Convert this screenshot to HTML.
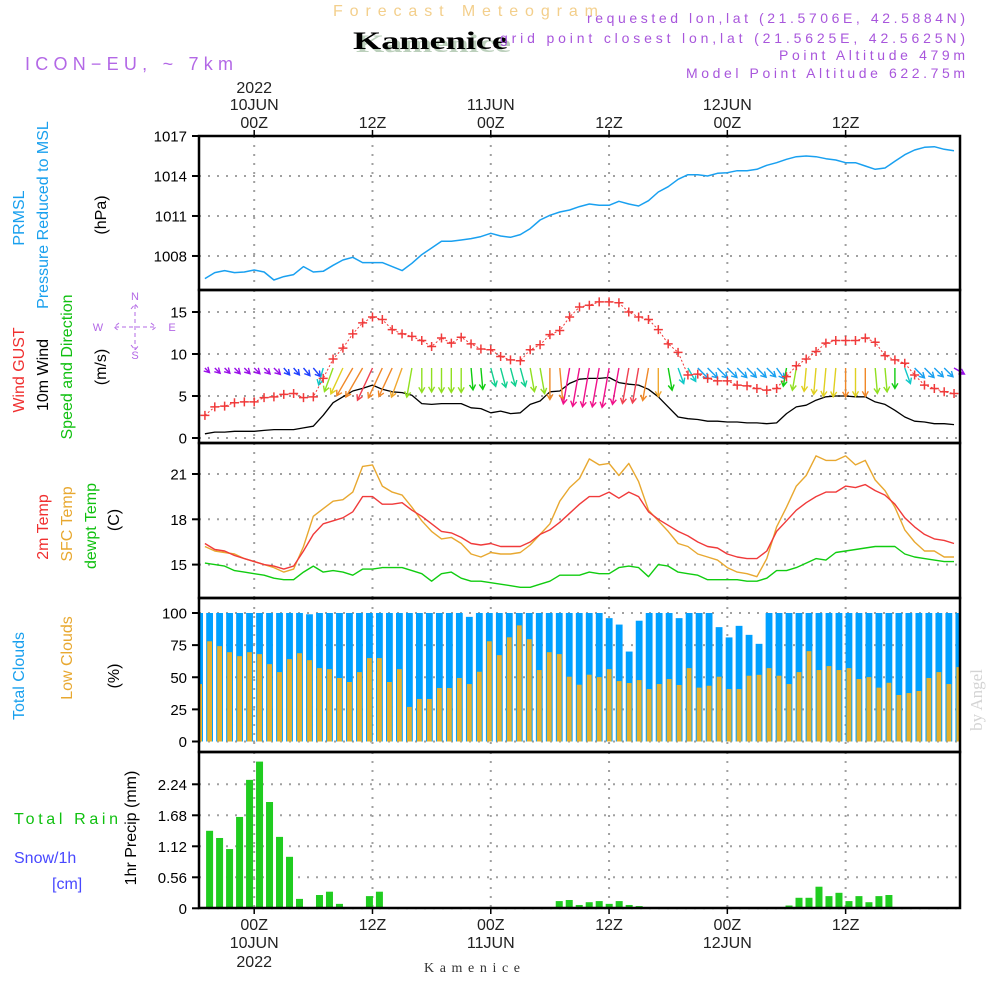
<!DOCTYPE html>
<html><head><meta charset="utf-8">
<style>
html,body{margin:0;padding:0;background:#fff;}
svg{display:block;font-family:"Liberation Sans",sans-serif;}
</style></head>
<body>
<svg id="chart" width="1000" height="1000" viewBox="0 0 1000 1000" xmlns="http://www.w3.org/2000/svg">
<rect x="0" y="0" width="1000" height="1000" fill="#fff"/>
<g id="grid"></g>
<g id="marks"></g>
<g id="frames"></g>
<g id="ticks" font-size="15" fill="#000"></g>

<!-- Header -->
<text x="333" y="16" font-size="16" fill="#f3cf8c" textLength="265" lengthAdjust="spacing">Forecast Meteogram</text>
<text x="356" y="52" font-size="25" font-weight="bold" font-family="Liberation Serif,serif" fill="#bcd0bc" textLength="155" lengthAdjust="spacingAndGlyphs">Kamenice</text>
<text x="353" y="49" font-size="25" font-weight="bold" font-family="Liberation Serif,serif" fill="#000" textLength="155" lengthAdjust="spacingAndGlyphs">Kamenice</text>
<text x="25" y="70" font-size="18" fill="#b368e6" textLength="208" lengthAdjust="spacing">ICON−EU, ~ 7km</text>
<g font-size="14" fill="#a856dc" text-anchor="end">
<text x="965" y="23" textLength="378" lengthAdjust="spacing">requested lon,lat (21.5706E, 42.5884N)</text>
<text x="965" y="43" textLength="465" lengthAdjust="spacing">grid point closest lon,lat (21.5625E, 42.5625N)</text>
<text x="965" y="60" textLength="186" lengthAdjust="spacing">Point Altitude 479m</text>
<text x="965" y="78" textLength="279" lengthAdjust="spacing">Model Point Altitude 622.75m</text>
</g>

<!-- Left panel labels -->
<g font-size="16" text-anchor="middle">
<text transform="translate(24,218) rotate(-90)" fill="#19a0ee">PRMSL</text>
<text transform="translate(48,215) rotate(-90)" fill="#19a0ee">Pressure Reduced to MSL</text>
<text transform="translate(106,215) rotate(-90)" fill="#000">(hPa)</text>

<text transform="translate(24,370) rotate(-90)" fill="#f03030">Wind GUST</text>
<text transform="translate(48,375) rotate(-90)" fill="#000">10m Wind</text>
<text transform="translate(72,367) rotate(-90)" fill="#10c010">Speed and Direction</text>
<text transform="translate(106,367) rotate(-90)" fill="#000">(m/s)</text>

<text transform="translate(48,527) rotate(-90)" fill="#f03030">2m Temp</text>
<text transform="translate(72,524) rotate(-90)" fill="#e8a830">SFC Temp</text>
<text transform="translate(96,526) rotate(-90)" fill="#10c010">dewpt Temp</text>
<text transform="translate(119,520) rotate(-90)" fill="#000">(C)</text>

<text transform="translate(24,676) rotate(-90)" fill="#19a0ee">Total Clouds</text>
<text transform="translate(72,658) rotate(-90)" fill="#e8a830">Low Clouds</text>
<text transform="translate(119,676) rotate(-90)" fill="#000">(%)</text>

<text transform="translate(136,828) rotate(-90)" fill="#000">1hr Precip (mm)</text>
</g>
<text x="14" y="824" font-size="16" fill="#10c010" textLength="104" lengthAdjust="spacing">Total  Rain</text>
<text x="14" y="863" font-size="16" fill="#4848ff">Snow/1h</text>
<text x="52" y="889" font-size="16" fill="#4848ff">[cm]</text>

<!-- compass -->
<g fill="#b368e6" stroke="none" font-size="11" text-anchor="middle">
<text x="135" y="300">N</text><text x="135" y="359">S</text>
<text x="98" y="331">W</text><text x="172" y="331">E</text>
<g stroke="#b368e6" stroke-width="1" fill="none">
<path d="M115 327 H155 M135 305 V350 M119 323 L114 327 L119 331 M151 323 L156 327 L151 331 M131 309 L135 304 L139 309 M131 345 L135 350 L139 345" stroke-dasharray="4 3"/>
</g>
</g>

<text transform="translate(982,700) rotate(-90)" font-size="17" font-family="Liberation Serif,serif" fill="#d4d4d4" text-anchor="middle">by Angel</text>
<text x="424" y="972" font-size="14" font-family="Liberation Serif,serif" fill="#333" textLength="96" lengthAdjust="spacing">Kamenice</text>
</svg>

<script>
// ---------- DATA (hourly, h = -5 .. 71) ----------
const hoursStart = -5;
const pressure = [1006.3,1006.75,1006.9,1006.75,1006.8,1006.95,1006.8,1006.2,1006.45,1006.6,1007.2,1006.8,1006.85,1007.3,1007.7,1007.9,1007.5,1007.5,1007.5,1007.2,1006.9,1007.45,1008.1,1008.6,1009.1,1009.1,1009.2,1009.3,1009.45,1009.7,1009.5,1009.4,1009.6,1010.05,1010.7,1011.05,1011.3,1011.45,1011.7,1011.9,1011.8,1011.8,1012.1,1011.9,1011.75,1012.15,1012.8,1013.2,1013.75,1014.1,1014.1,1014.0,1014.2,1014.25,1014.4,1014.4,1014.5,1014.8,1015.0,1015.25,1015.45,1015.5,1015.45,1015.3,1015.2,1015.0,1015.0,1014.75,1014.5,1014.6,1015.1,1015.6,1015.95,1016.15,1016.2,1016.0,1015.9];
const windGust = [2.7,3.7,3.8,4.2,4.3,4.3,4.8,4.9,5.2,5.3,4.8,4.9,7.1,9.4,10.7,12.4,13.7,14.4,14.1,12.9,12.4,12.1,11.6,10.9,11.9,11.3,12.0,11.2,10.6,10.5,9.7,9.3,9.2,10.5,11.1,12.3,12.8,14.4,15.6,15.8,16.2,16.2,16.1,15.0,14.4,14.1,12.9,11.2,10.2,7.5,7.6,7.1,6.8,6.8,6.3,6.2,5.9,5.7,5.9,7.3,8.6,9.4,10.3,11.3,11.6,11.6,11.6,11.9,11.4,9.8,9.3,8.9,7.5,6.3,5.9,5.5,5.3];
const windSpeed = [0.5,0.7,0.7,0.8,0.8,0.8,0.9,1.0,1.0,1.0,1.2,1.4,2.7,4.2,4.9,5.6,5.9,6.3,5.8,5.5,5.4,5.1,4.1,4.0,4.1,4.1,4.1,3.6,3.5,3.0,3.2,2.9,3.0,4.0,4.4,5.5,5.6,6.5,7.0,7.1,7.1,7.2,6.6,6.4,6.3,5.8,4.9,3.7,2.5,2.3,2.2,2.0,2.0,1.9,1.9,1.8,1.8,1.7,1.8,2.9,3.7,3.9,4.5,4.9,5.0,5.0,4.9,4.9,4.3,4.0,3.3,2.5,2.0,1.9,1.7,1.7,1.6];
// arrow pointing angle in degrees from straight down (+ = toward right)
const windDir = [45,45,45,45,45,45,45,45,40,40,40,40,-15,-20,-25,-30,-30,-25,-25,-25,-20,-10,0,0,0,0,0,5,5,15,15,15,15,10,10,0,5,-10,-10,-10,-10,-10,-10,-10,-10,-10,0,10,20,30,45,45,45,45,45,45,45,45,35,-10,-10,-5,-5,-5,-5,0,0,0,5,5,0,20,45,45,45,45,60];
const windColorCode = ["P","P","P","P","P","P","P","P","B","B","B","B","C","L","Y","O","O","R","O","O","A","L","L","L","L","L","L","G","G","T","T","T","T","L","L","O","O","K","K","K","K","K","K","R","R","O","A","G","C","C","S","S","S","S","S","S","S","S","S","G","L","Y","Y","Y","Y","O","Y","O","L","L","G","C","S","S","S","S","P"];
const temp2m = [16.4,16.0,15.9,15.6,15.4,15.2,15.0,14.9,14.7,14.9,15.9,17.0,17.7,17.9,18.1,18.5,19.5,19.5,19.0,19.0,19.1,18.6,18.2,17.7,17.2,17.1,16.8,16.4,16.3,16.4,16.2,16.2,16.2,16.5,17.0,17.3,17.8,18.4,19.0,19.5,19.5,19.8,19.4,19.8,19.5,18.5,18.0,17.6,17.2,16.9,16.5,16.2,16.1,15.7,15.5,15.4,15.4,15.9,17.2,17.9,18.6,19.1,19.5,19.8,19.8,20.2,20.1,20.3,19.9,19.6,19.0,18.1,17.5,17.0,16.7,16.6,16.4];
const tempSfc = [16.2,15.9,15.8,15.7,15.4,15.2,15.0,14.8,14.5,14.7,16.2,18.2,18.7,19.2,19.3,19.8,21.5,21.6,20.2,19.8,19.6,18.8,17.9,17.2,16.7,16.8,16.4,15.7,15.5,15.8,15.7,15.7,15.8,16.3,17.0,17.7,19.2,20.1,20.7,22.0,21.6,21.7,20.9,21.7,20.5,18.6,17.9,17.2,16.4,16.2,15.7,15.5,15.3,14.8,14.5,14.4,14.2,15.4,17.5,18.8,20.2,20.9,22.2,21.9,21.9,22.2,21.6,21.9,20.6,19.9,18.8,17.3,16.5,15.9,15.9,15.5,15.5];
const dewpoint = [15.1,15.0,14.9,14.6,14.5,14.4,14.3,14.1,14.0,14.0,14.5,14.9,14.5,14.6,14.5,14.3,14.7,14.7,14.8,14.8,14.8,14.6,14.4,13.9,14.4,14.5,14.1,13.9,13.9,13.8,13.7,13.6,13.5,13.5,13.7,13.9,14.3,14.3,14.3,14.5,14.4,14.4,14.8,14.9,14.8,14.2,15.0,14.9,14.5,14.4,14.3,14.0,14.0,14.0,14.0,13.9,13.9,14.1,14.6,14.6,14.8,15.1,15.4,15.3,15.8,15.9,16.0,16.1,16.2,16.2,16.2,15.7,15.5,15.4,15.3,15.2,15.2];
// bar series (index i, centered at h = i - 5.5)
const totalClouds = [100,100,100,100,100,100,100,100,100,100,100,99,100,100,100,100,100,100,100,100,100,100,100,100,100,100,100,97,100,100,100,100,100,100,100,100,100,100,100,100,100,96,91,70,94,100,100,100,96,100,100,100,89,81,90,83,76,100,100,100,100,100,100,100,100,100,100,100,100,100,100,100,100,100,100,100,100];
const lowClouds = [44.7,78.0,74.2,69.5,66.4,69.5,68.0,60.2,54.0,64.1,68.7,63.3,57.1,56.3,49.4,46.3,54.0,64.9,64.9,46.3,56.3,26.9,33.1,33.1,41.6,41.6,49.4,44.7,54.3,78.0,67.2,81.1,90.4,79.6,55.6,69.5,68.0,50.4,44.2,52.0,50.1,56.3,47.0,45.5,47.8,40.8,44.7,48.6,44.0,57.1,41.9,43.4,50.4,40.8,40.8,51.2,51.9,57.1,51.2,44.7,54.0,70.3,55.6,58.7,55.6,57.1,48.6,50.1,41.9,45.7,36.2,37.7,39.3,49.4,54.0,44.7,57.9];
const precip = [0,1.40,1.27,1.07,1.65,2.32,2.65,1.92,1.29,0.93,0.17,0,0.24,0.30,0.08,0,0.02,0.22,0.30,0,0,0,0,0,0,0,0,0,0,0,0,0,0,0,0,0,0.13,0.15,0.06,0.11,0.13,0.08,0.13,0.06,0.04,0,0,0,0,0,0,0,0,0,0,0,0,0,0,0.05,0.19,0.19,0.39,0.22,0.28,0.13,0.22,0.11,0.22,0.24,0,0,0,0,0,0,0];
const pressureTicks = [1008,1011,1014,1017];
const windTicks = [0,5,10,15];
const tempTicks = [15,18,21];
const cloudTicks = [0,25,50,75,100];
const precipTicks = ["0","0.56","1.12","1.68","2.24"];
const timeTicksH = [0,12,24,36,48,60];
const timeLabelTop = [["2022","10JUN","00Z"],["","","12Z"],["","11JUN","00Z"],["","","12Z"],["","12JUN","00Z"],["","","12Z"]];
const timeLabelBottom = [["00Z","10JUN","2022"],["12Z","",""],["00Z","11JUN",""],["12Z","",""],["00Z","12JUN",""],["12Z","",""]];

// ---------- SCALES ----------
const L = 199, R = 960;
const X = h => 254.2 + 9.857 * h;
const XB = i => 199.6 + 9.99 * i;
const yP = v => 136 + (1017 - v) * 13.33;
const yW = v => 438 - 8.4 * v;
const yT = v => 474 + (21 - v) * 15.1;
const yC = v => 741.5 - 1.285 * v;
const yR = v => 908.3 - 55.36 * v;
const panels = [[136,290],[290,443],[443,598],[598,752],[752,908]];
const colorMap = {P:"#9a10e8",B:"#2040ff",S:"#18a0f0",C:"#10c8c8",T:"#10d090",G:"#10cc10",L:"#90e020",Y:"#e0d020",O:"#f08828",A:"#f0a830",R:"#f04050",K:"#f0108a"};

const NS = "http://www.w3.org/2000/svg";
function mk(tag, attrs, parent) {
  const e = document.createElementNS(NS, tag);
  for (const k in attrs) e.setAttribute(k, attrs[k]);
  parent.appendChild(e);
  return e;
}
const gGrid = document.getElementById('grid');
const gMarks = document.getElementById('marks');
const gFrames = document.getElementById('frames');
const gTicks = document.getElementById('ticks');

// clip path for bars
const defs = mk('defs', {}, document.getElementById('chart'));
const cp = mk('clipPath', {id:'plotclip'}, defs);
mk('rect', {x:L, y:130, width:R-L, height:790}, cp);

// ---------- GRID ----------
function hGrid(y) {
  const ln = mk('line', {x1:L, x2:R, y1:y, y2:y, stroke:"#a0a0a0", "stroke-width":2, "stroke-dasharray":"2 7"}, gGrid);
  
  
}
panels.forEach(p => {
  timeTicksH.forEach(h => {
    const ln = mk('line', {x1:X(h), x2:X(h), y1:p[0], y2:p[1], stroke:"#a0a0a0", "stroke-width":2, "stroke-dasharray":"2 7"}, gGrid);
    
    
  });
});
pressureTicks.forEach(v => hGrid(yP(v)));
windTicks.forEach(v => hGrid(yW(v)));
tempTicks.forEach(v => hGrid(yT(v)));
cloudTicks.forEach(v => hGrid(yC(v)));
precipTicks.forEach(v => hGrid(yR(parseFloat(v))));

// ---------- SERIES ----------
function linePath(arr, yf, color, name, width) {
  const d = arr.map((v, i) => (i ? "L" : "M") + X(hoursStart + i).toFixed(1) + " " + yf(v).toFixed(1)).join(" ");
  const p = mk('path', {d:d, fill:"none", stroke:color, "stroke-width":width || 1.4, "stroke-linejoin":"round"}, gMarks);
  
  
  return p;
}
// pressure
linePath(pressure, yP, "#19a0f0", "pressure-line", 1.5);

// clouds
totalClouds.forEach((v, i) => {
  const r = mk('rect', {x:XB(i) - 3.4, y:yC(v), width:6.8, height:yC(0) - yC(v), fill:"#00a0ff", "clip-path":"url(#plotclip)"}, gMarks);
  
  
});
lowClouds.forEach((v, i) => {
  const r = mk('rect', {x:XB(i) - 2.4, y:yC(v), width:4.8, height:yC(0) - yC(v), fill:"#e6b02c", "clip-path":"url(#plotclip)"}, gMarks);
  
  
});
// precip
precip.forEach((v, i) => {
  if (v <= 0) return;
  const r = mk('rect', {x:XB(i) - 3.5, y:yR(v), width:7, height:yR(0) - yR(v), fill:"#20cc20", "clip-path":"url(#plotclip)"}, gMarks);
  
  
});

// temperatures
linePath(tempSfc, yT, "#e8a830", "sfc-temp-line", 1.4);
linePath(temp2m, yT, "#f03a3a", "temp-2m-line", 1.4);
linePath(dewpoint, yT, "#10cc10", "dewpoint-line", 1.4);

// wind speed
linePath(windSpeed, yW, "#000", "wind-speed-line", 1.3);

// wind arrows
windSpeed.forEach((s, i) => {
  const x0 = X(hoursStart + i), y0 = 368;
  const len = 4 + 5 * s;
  const a = windDir[i] * Math.PI / 180;
  const dx = Math.sin(a) * len, dy = Math.cos(a) * len;
  const x1 = x0 + dx, y1 = y0 + dy;
  const ux = dx / len, uy = dy / len;
  const hs = 6;
  const hx1 = x1 - hs * (ux * 0.87 - uy * 0.5), hy1 = y1 - hs * (uy * 0.87 + ux * 0.5);
  const hx2 = x1 - hs * (ux * 0.87 + uy * 0.5), hy2 = y1 - hs * (uy * 0.87 - ux * 0.5);
  const col = colorMap[windColorCode[i]];
  const p = mk('path', {d:`M${x0.toFixed(1)} ${y0} L${x1.toFixed(1)} ${y1.toFixed(1)} M${hx1.toFixed(1)} ${hy1.toFixed(1)} L${x1.toFixed(1)} ${y1.toFixed(1)} L${hx2.toFixed(1)} ${hy2.toFixed(1)}`, fill:"none", stroke:col, "stroke-width":1.4}, gMarks);
  
  
});

// gust
const gl = linePath(windGust, yW, "#f03a3a", "wind-gust-line", 1);
gl.setAttribute('stroke-dasharray', '2 2');
windGust.forEach((v, i) => {
  const x = X(hoursStart + i), y = yW(v);
  const p = mk('path', {d:`M${x-4.5} ${y} H${x+4.5} M${x} ${y-4.5} V${y+4.5}`, stroke:"#f03a3a", "stroke-width":1.5}, gMarks);
  
  
});

// ---------- FRAMES & AXES ----------
panels.forEach(p => {
  const r = mk('rect', {x:L, y:p[0], width:R-L, height:p[1]-p[0], fill:"none", stroke:"#000", "stroke-width":2.5}, gFrames);
  
  
});
function yTick(y, label) {
  const ln = mk('line', {x1:192, x2:L, y1:y, y2:y, stroke:"#000", "stroke-width":2}, gTicks);
  
  
  const t = mk('text', {x:187, y:y + 5.5, "text-anchor":"end"}, gTicks);
  t.textContent = label;
  
  
}
pressureTicks.forEach(v => yTick(yP(v), String(v)));
windTicks.forEach(v => yTick(yW(v), String(v)));
tempTicks.forEach(v => yTick(yT(v), String(v)));
cloudTicks.forEach(v => yTick(yC(v), String(v)));
precipTicks.forEach(v => yTick(yR(parseFloat(v)), v));

timeTicksH.forEach((h, k) => {
  const x = X(h);
  const t1 = mk('line', {x1:x, x2:x, y1:130, y2:136, stroke:"#000", "stroke-width":1.5}, gTicks);
  
  
  const t2 = mk('line', {x1:x, x2:x, y1:908, y2:914, stroke:"#000", "stroke-width":1.5}, gTicks);
  
  
  const tops = timeLabelTop[k], ty = [93, 110, 128];
  tops.forEach((s, j) => {
    if (!s) return;
    const t = mk('text', {x:x, y:ty[j], "text-anchor":"middle", "font-size":16, fill:"#222"}, gTicks);
    t.textContent = s;
    
    
  });
  const bots = timeLabelBottom[k], by = [930, 948, 967];
  bots.forEach((s, j) => {
    if (!s) return;
    const t = mk('text', {x:x, y:by[j], "text-anchor":"middle", "font-size":16, fill:"#222"}, gTicks);
    t.textContent = s;
    
    
  });
});
</script>
</body></html>
